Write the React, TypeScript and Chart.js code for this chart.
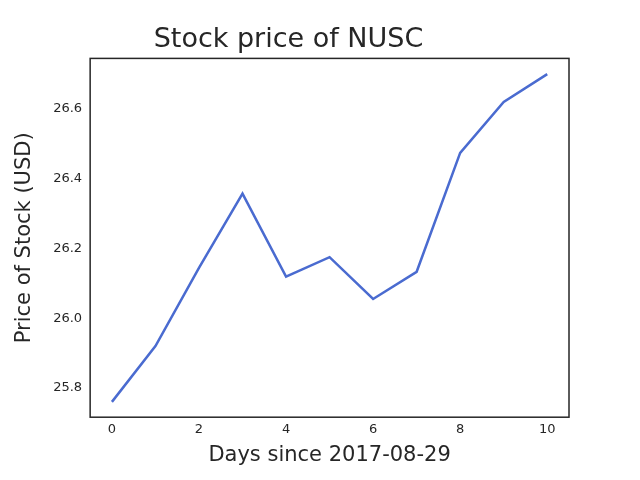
import React, { useEffect, useRef } from 'react';
import Chart from 'chart.js/auto';

const days = [0, 1, 2, 3, 4, 5, 6, 7, 8, 9, 10];
const prices = [25.76, 25.92, 26.144, 26.357, 26.119, 26.175, 26.055, 26.133, 26.474, 26.62, 26.7];
const xTicks = [0, 2, 4, 6, 8, 10];
const yTicks = [25.8, 26.0, 26.2, 26.4, 26.6];

const frame = {
  id: 'frame',
  afterDraw(chart: any) {
    const { ctx, chartArea: a } = chart;
    ctx.save();
    ctx.strokeStyle = '#262626';
    ctx.lineWidth = 1.5;
    ctx.strokeRect(a.left, a.top, a.right - a.left, a.bottom - a.top);
    ctx.restore();
  },
};

const App = () => {
  const chartRef = useRef<HTMLCanvasElement>(null);

  useEffect(() => {
    document.body.style.margin = '0';
    if (!chartRef.current) return;
    const font = 'DejaVu Sans';
    const myChart = new Chart(chartRef.current, {
      type: 'line',
      data: {
        datasets: [
          {
            data: days.map((d, i) => ({ x: d, y: prices[i] })),
            borderColor: '#4a6bd0',
            borderWidth: 2.5,
            pointRadius: 0,
            tension: 0,
          },
        ],
      },
      options: {
        animation: false,
        responsive: false,
        layout: { padding: { left: 8, right: 71, top: 24, bottom: 12 } },
        plugins: {
          legend: { display: false },
          tooltip: { enabled: false },
          title: {
            display: true,
            text: 'Stock price of NUSC',
            color: '#262626',
            font: { family: font, size: 27, weight: 'normal' },
            padding: { top: 0, bottom: 2 },
          },
        },
        scales: {
          x: {
            type: 'linear',
            min: -0.5,
            max: 10.5,
            afterBuildTicks: (s: any) => { s.ticks = xTicks.map((v) => ({ value: v })); },
            grid: { display: false, drawTicks: false },
            border: { display: false },
            ticks: { color: '#262626', padding: 5, font: { family: font, size: 13 } },
            title: { display: true, text: 'Days since 2017-08-29', color: '#262626', font: { family: font, size: 21 }, padding: { top: 0, bottom: 0 } },
          },
          y: {
            min: 25.716,
            max: 26.745,
            afterBuildTicks: (s: any) => { s.ticks = yTicks.map((v) => ({ value: v })); },
            grid: { display: false, drawTicks: false },
            border: { display: false },
            ticks: { color: '#262626', padding: 8, font: { family: font, size: 13 }, callback: (v: any) => Number(v).toFixed(1) },
            title: { display: true, text: 'Price of Stock (USD)', color: '#262626', font: { family: font, size: 21 }, padding: { bottom: 8 } },
          },
        },
      },
      plugins: [frame],
    });
    return () => myChart.destroy();
  }, []);

  return <canvas ref={chartRef} width={640} height={480} />;
};

export default App;
